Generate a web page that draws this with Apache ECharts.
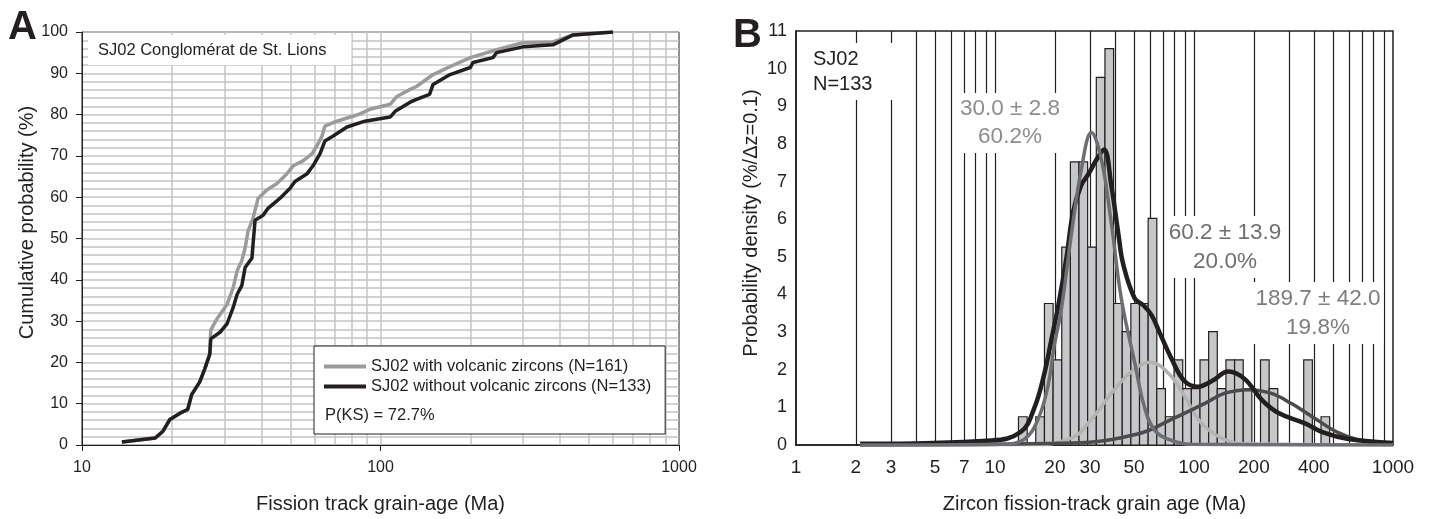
<!DOCTYPE html>
<html>
<head>
<meta charset="utf-8">
<script src="https://cdn.jsdelivr.net/npm/echarts@6.0.0/dist/echarts.min.js"></script>
<style>
  html, body { margin: 0; padding: 0; background: #fff; }
  #main { width: 1431px; height: 519px; }
</style>
</head>
<body>
<div id="main"></div>
<script>
// ---- panel A : cumulative age distributions ----
var ageGrey = [13.6, 17.6, 18.7, 19.7, 21.3, 22.6, 23.3, 24.8, 25.8, 26.8, 27.0, 28.3, 30.6, 32.1, 33.1, 34.3, 35.2, 36.0, 37.4, 38.9, 41.5, 45.0, 48.6, 51.0, 55.0, 58.9, 61.2, 63.7, 65.1, 71.4, 80.8, 85.0, 92.2, 107.7, 113.5, 125.7, 132, 150, 171, 200, 245, 300, 378, 430, 442, 601];
var cumGrey = [0.7, 1.7, 3.4, 6.2, 7.7, 8.6, 12.2, 15.3, 18.5, 22.0, 27.8, 30.5, 34.0, 38.1, 42.2, 44.6, 47.7, 51.8, 54.9, 59.7, 61.7, 63.3, 65.7, 67.6, 68.8, 70.5, 72.4, 74.8, 77.2, 78.4, 79.6, 80.1, 81.3, 82.5, 84.4, 86.1, 86.8, 89.7, 91.6, 93.8, 95.7, 97.4, 97.6, 99.0, 99.3, 100];
var ageBlack = [13.6, 17.6, 18.7, 19.7, 21.3, 22.6, 23.3, 24.8, 25.8, 26.8, 27.0, 29.0, 30.6, 32.1, 33.1, 34.3, 35.2, 37.1, 37.4, 38.0, 40.4, 42.0, 46.0, 49.7, 51.7, 56.8, 59.4, 62.7, 65.1, 69.4, 77.2, 88.7, 107.7, 112, 125.7, 132, 146, 150, 171, 200, 204, 238, 245, 300, 378, 442, 601];
var cumBlack = [0.7, 1.7, 3.4, 6.2, 7.7, 8.6, 12.2, 15.3, 18.5, 22.0, 25.7, 27.3, 29.3, 33.3, 36.5, 38.6, 43.0, 45.3, 48.5, 54.4, 55.6, 57.3, 59.7, 62.1, 63.8, 65.7, 67.6, 70.5, 73.6, 74.8, 77.0, 78.4, 79.4, 80.8, 83.0, 83.7, 84.9, 87.3, 89.7, 91.4, 92.6, 93.8, 95.0, 96.4, 96.9, 99.3, 100];
var gridAgesA = [20, 30, 40, 50, 60, 70, 80, 90, 100, 200, 300, 400, 500, 600, 700, 800, 900];

// ---- panel B : histogram + fitted peaks ----
var binEdges = [13.12, 14.51, 16.03, 17.72, 19.59, 21.65, 23.92, 26.43, 29.21, 32.29, 35.69, 39.44, 43.58, 48.17, 53.24, 58.83, 65.02, 71.86, 79.41, 87.77, 96.99, 107.20, 118.47, 130.93, 144.70, 159.92, 176.74, 195.33, 215.87, 238.57, 263.67, 291.40, 322.04, 355.91, 393.34, 434.71, 480.43];
var binDensity = [0.75, 0, 0.75, 3.76, 2.26, 5.26, 7.52, 7.52, 5.26, 9.77, 10.53, 3.76, 3.01, 3.76, 3.76, 6.02, 1.50, 0.75, 2.26, 1.50, 1.50, 2.26, 3.01, 1.50, 2.26, 2.26, 1.50, 0, 2.26, 1.50, 0, 0, 0, 2.26, 0, 0.75];

var sumAge = [2.1, 9.6, 13.5, 15.8, 17.7, 19.2, 20.8, 22.9, 24.7, 27.1, 29.5, 32.5, 35.3, 38.4, 41.7, 44.1, 50.3, 56, 61.2, 67, 77, 89.5, 105, 123, 149, 180, 219, 266, 359, 453, 597, 1000];
var sumVal = [0.03, 0.12, 0.35, 1.0, 1.9, 2.8, 3.7, 5.0, 6.2, 6.9, 7.2, 7.6, 7.85, 6.9, 5.6, 4.8, 3.9, 3.7, 3.45, 3.0, 2.3, 1.7, 1.55, 1.7, 1.95, 1.75, 1.2, 0.85, 0.58, 0.32, 0.16, 0.05];
var peak1Age = [2.1, 10.7, 14.0, 16.5, 18.5, 19.8, 21.6, 24.2, 27.1, 30.5, 34.2, 38.4, 43.1, 50.3, 56.4, 63.2, 74.6, 97, 1000];
var peak1Val = [0, 0.02, 0.15, 0.7, 1.6, 2.6, 3.65, 5.6, 7.3, 8.3, 7.6, 5.9, 3.9, 2.2, 1.0, 0.4, 0.15, 0.02, 0];
var peak2Age = [2.1, 15, 24.2, 30.5, 38.4, 48.5, 60, 74.6, 89.5, 109, 138, 180, 1000];
var peak2Val = [0, 0.01, 0.18, 0.68, 1.37, 1.95, 2.2, 1.9, 1.3, 0.58, 0.18, 0.03, 0];
var peak3Age = [2.1, 24.2, 52.7, 77.1, 113, 142, 188, 245, 309, 391, 534, 720, 1000];
var peak3Val = [0, 0.05, 0.3, 0.68, 1.1, 1.37, 1.47, 1.37, 1.1, 0.76, 0.32, 0.1, 0.04];
var gridAgesB = [2, 3, 4, 5, 6, 7, 8, 9, 10, 20, 30, 40, 50, 60, 70, 80, 90, 100, 200, 300, 400, 500, 600, 700, 800, 900];
var xLabelsB = [1, 2, 3, 5, 7, 10, 20, 30, 50, 100, 200, 400, 1000];

var FONT = '"Liberation Sans", Arial, sans-serif';
var INK = '#231f20';

function zip(a, b) {
  var out = [];
  for (var i = 0; i < a.length; i++) out.push([a[i], b[i]]);
  return out;
}
function plain(v) { return String(v); }

var bars = [];
for (var i = 0; i < binDensity.length; i++) {
  if (binDensity[i] > 0) bars.push([binEdges[i], binEdges[i + 1], binDensity[i]]);
}

var chart = echarts.init(document.getElementById('main'));

var option = {
  animation: false,
  textStyle: { fontFamily: FONT, color: INK },
  grid: [
    { left: 82, top: 32, width: 597, height: 417, show: true, borderColor: INK, borderWidth: 1 },
    { left: 796, top: 31, width: 597, height: 418, show: true, borderColor: INK, borderWidth: 1.5 }
  ],
  legend: {
    data: ['SJ02 with volcanic zircons (N=161)', 'SJ02 without volcanic zircons (N=133)'],
    orient: 'vertical',
    left: 314,
    top: 346,
    z: 8,
    padding: [11, 14, 38, 10],
    itemGap: 1,
    itemWidth: 42,
    itemHeight: 4,
    icon: 'rect',
    selectedMode: false,
    backgroundColor: '#fff',
    borderColor: INK,
    borderWidth: 1,
    textStyle: { fontSize: 16.5, color: INK, lineHeight: 19, fontFamily: FONT }
  },
  xAxis: [
    {
      gridIndex: 0, type: 'log', logBase: 10, min: 10, max: 1000,
      name: 'Fission track grain-age (Ma)', nameLocation: 'middle', nameGap: 49,
      nameTextStyle: { fontSize: 20, color: INK },
      axisLine: { lineStyle: { color: INK, width: 1 } },
      axisTick: { show: true, length: 6, lineStyle: { color: INK } },
      axisLabel: { fontSize: 16, color: INK, margin: 15, formatter: plain },
      splitLine: { show: false }
    },
    {
      gridIndex: 1, type: 'log', logBase: 10, min: 1, max: 1000,
      name: 'Zircon fission-track grain age (Ma)', nameLocation: 'middle', nameGap: 49,
      nameTextStyle: { fontSize: 20, color: INK },
      axisLine: { lineStyle: { color: INK, width: 1.5 } },
      axisTick: { show: false },
      axisLabel: { fontSize: 19, color: INK, margin: 13, customValues: xLabelsB, formatter: plain },
      splitLine: { show: false }
    }
  ],
  yAxis: [
    {
      gridIndex: 0, type: 'value', min: 0, max: 100, interval: 10,
      name: 'Cumulative probability (%)', nameLocation: 'middle', nameGap: 43,
      nameTextStyle: { fontSize: 20, color: INK, padding: [0, 0, 0, 32] },
      axisLine: { show: true, lineStyle: { color: INK, width: 1 } },
      axisTick: { show: true, length: 6, lineStyle: { color: INK } },
      axisLabel: { fontSize: 16, color: INK, margin: 14 },
      splitLine: { show: true, lineStyle: { color: '#c4c4c4', width: 1.5 } },
      minorTick: { show: false, splitNumber: 5 },
      minorSplitLine: { show: true, lineStyle: { color: '#c4c4c4', width: 1.5 } }
    },
    {
      gridIndex: 1, type: 'value', min: 0, max: 11, interval: 1,
      name: 'Probability density (%/\u0394z=0.1)', nameLocation: 'middle', nameGap: 35,
      nameTextStyle: { fontSize: 20, color: INK, padding: [0, 0, 0, 30] },
      axisLine: { show: true, lineStyle: { color: INK, width: 1.5 } },
      axisTick: { show: false },
      axisLabel: { fontSize: 18, color: INK, margin: 9 },
      splitLine: { show: false }
    }
  ],
  series: [
    {
      type: 'line', xAxisIndex: 0, yAxisIndex: 0, data: [], silent: true, z: 1,
      markLine: {
        z: 1, symbol: ['none', 'none'], silent: true, label: { show: false },
        lineStyle: { color: '#c4c4c4', width: 1.5, type: 'solid' },
        data: gridAgesA.map(function (v) { return { xAxis: v }; })
      }
    },
    {
      name: 'SJ02 with volcanic zircons (N=161)', type: 'line', xAxisIndex: 0, yAxisIndex: 0,
      data: zip(ageGrey, cumGrey), symbol: 'none', z: 2,
      itemStyle: { color: '#9b9b9b' },
      lineStyle: { color: '#9b9b9b', width: 3.5 }
    },
    {
      name: 'SJ02 without volcanic zircons (N=133)', type: 'line', xAxisIndex: 0, yAxisIndex: 0,
      data: zip(ageBlack, cumBlack), symbol: 'none', z: 3,
      itemStyle: { color: INK },
      lineStyle: { color: INK, width: 3.5 }
    },
    {
      type: 'line', xAxisIndex: 1, yAxisIndex: 1, data: [], silent: true, z: 1,
      markLine: {
        z: 1, symbol: ['none', 'none'], silent: true, label: { show: false },
        lineStyle: { color: INK, width: 1.2, type: 'solid' },
        data: gridAgesB.map(function (v) { return { xAxis: v }; })
      }
    },
    {
      type: 'custom', xAxisIndex: 1, yAxisIndex: 1, z: 2,
      data: bars,
      encode: { x: [0, 1], y: 2 },
      renderItem: function (params, api) {
        var topLeft = api.coord([api.value(0), api.value(2)]);
        var bottomRight = api.coord([api.value(1), 0]);
        return {
          type: 'rect',
          shape: { x: topLeft[0], y: topLeft[1], width: bottomRight[0] - topLeft[0], height: bottomRight[1] - topLeft[1] },
          style: { fill: '#c6c7c9', stroke: INK, lineWidth: 1.2 }
        };
      }
    },
    {
      type: 'line', xAxisIndex: 1, yAxisIndex: 1, data: zip(peak2Age, peak2Val),
      symbol: 'none', smooth: 0.4, z: 3, lineStyle: { color: '#b3b3b3', width: 3.5 }
    },
    {
      type: 'line', xAxisIndex: 1, yAxisIndex: 1, data: zip(peak3Age, peak3Val),
      symbol: 'none', smooth: 0.4, z: 3, lineStyle: { color: '#4b4b4d', width: 3.5 }
    },
    {
      type: 'line', xAxisIndex: 1, yAxisIndex: 1, data: zip(sumAge, sumVal),
      symbol: 'none', smooth: 0.4, z: 4, lineStyle: { color: INK, width: 4.5 }
    },
    {
      type: 'line', xAxisIndex: 1, yAxisIndex: 1, data: zip(peak1Age, peak1Val),
      symbol: 'none', smooth: 0.4, z: 5, lineStyle: { color: '#6d6e71', width: 3.5 }
    }
  ],
  graphic: [
    { type: 'text', x: 8, y: 28, z: 10, style: { text: 'A', font: 'bold 40px ' + FONT, fill: INK, verticalAlign: 'middle' } },
    { type: 'text', x: 733, y: 36, z: 10, style: { text: 'B', font: 'bold 40px ' + FONT, fill: INK, verticalAlign: 'middle' } },
    { type: 'text', x: 88, y: 35, z: 10, style: { text: 'SJ02 Conglomérat de St. Lions', font: '16.5px ' + FONT, fill: INK, lineHeight: 19, padding: [6, 25, 5, 10], backgroundColor: '#fff' } },
    { type: 'text', x: 325, y: 415, z: 10, style: { text: 'P(KS) = 72.7%', font: '16.5px ' + FONT, fill: INK, verticalAlign: 'middle' } },
    { type: 'text', x: 797, y: 43, z: 10, style: { text: 'SJ02\nN=133', font: '20px ' + FONT, fill: INK, lineHeight: 25, padding: [4, 28, 3, 16], backgroundColor: '#fff' } },
    { type: 'text', x: 1010, y: 93, z: 10, style: { text: '30.0 \u00b1 2.8\n60.2%', font: '22.5px ' + FONT, fill: '#8d8d8d', align: 'center', lineHeight: 28, padding: [2, 3, 2, 3], backgroundColor: '#fff' } },
    { type: 'text', x: 1225, y: 216, z: 10, style: { text: '60.2 \u00b1 13.9\n20.0%', font: '22.5px ' + FONT, fill: '#6f6f6f', align: 'center', lineHeight: 29, padding: [2, 3, 2, 3], backgroundColor: '#fff' } },
    { type: 'text', x: 1318, y: 282, z: 10, style: { text: '189.7 \u00b1 42.0\n19.8%', font: '22.5px ' + FONT, fill: '#7d7d7d', align: 'center', lineHeight: 29, padding: [2, 3, 2, 3], backgroundColor: '#fff' } }
  ]
};

chart.setOption(option);
</script>
</body>
</html>
